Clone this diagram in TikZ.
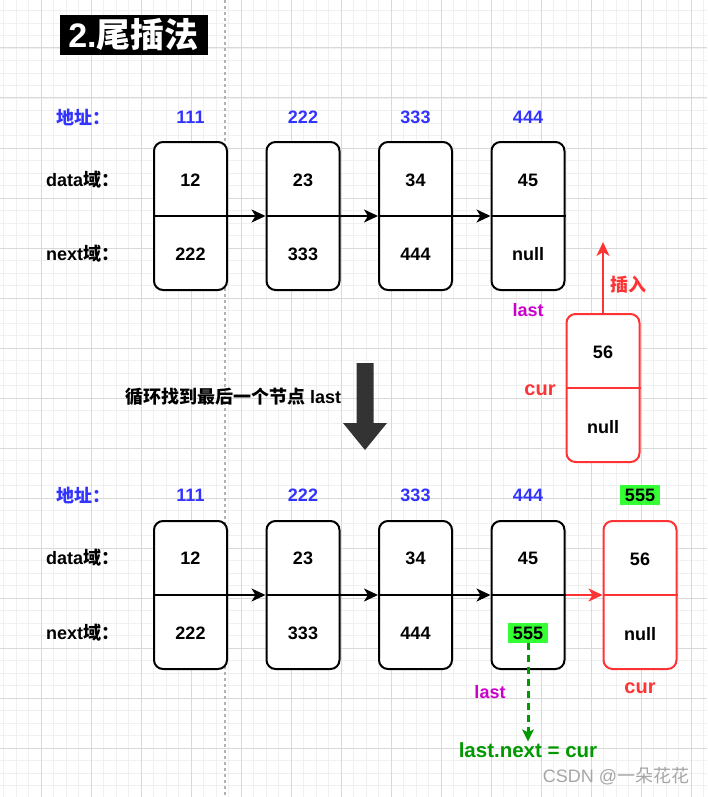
\documentclass[tikz,border=0pt]{standalone}
\usepackage{fontspec}
\setmainfont{Liberation Sans}
\newfontfamily\cjk{Noto Sans CJK SC}
\usetikzlibrary{positioning, arrows.meta}

\definecolor{addrblue}{HTML}{3333FF}
\definecolor{lastpink}{HTML}{CC00CC}
\definecolor{curred}{HTML}{FF3333}
\definecolor{hilite}{HTML}{33FF33}
\definecolor{okgreen}{HTML}{009900}
\definecolor{bigarrow}{HTML}{333333}

\begin{document}
\begin{tikzpicture}[x=1pt, y=-1pt,
    every node/.style={font=\bfseries\fontsize{18}{20}\selectfont, inner sep=1pt},
    cell/.style={draw, fill=white, rounded corners=9pt, line width=2pt, minimum width=73pt, minimum height=148pt},
    redcell/.style={cell, draw=curred},
    addr/.style={text=addrblue},
    field/.style={anchor=west},
    tag/.style={fill=hilite, inner xsep=5pt, inner ysep=4pt},
    link/.style={line width=2pt, -{Stealth[length=14pt, width=13pt, inset=4pt]}},
    redlink/.style={link, draw=curred, -{Stealth[length=14pt, width=13pt, inset=4pt, fill=curred]}},
    minorgrid/.style={draw=black!6, line width=0.8pt},
    majorgrid/.style={draw=black!15, line width=1pt}]

        \useasboundingbox (0,0) rectangle (707,797);
        \fill[white] (0,0) rectangle (707,797);

        % Grid
        \foreach \gx in {3.5,16,...,707} \draw[minorgrid] (\gx,0) -- (\gx,797);
        \foreach \gy in {10.5,23,...,797} \draw[minorgrid] (0,\gy) -- (707,\gy);
        \foreach \gx in {41,91,...,707} \draw[majorgrid] (\gx,0) -- (\gx,797);
        \foreach \gy in {48,98,...,797} \draw[majorgrid] (0,\gy) -- (707,\gy);
        \draw[black!30, line width=1.5pt, dash pattern=on 3pt off 3pt] (225,0) -- (225,797);

        % Title
        \node[fill=black, text=white, minimum width=148pt, minimum height=40pt, inner sep=0pt,
              font=\bfseries\fontsize{34}{36}\selectfont] (title) at (133.5,35) {2.{\cjk 尾插法}};

        % Before
        \node[field, addr] (addrA) at (55,117) {{\cjk 地址：}};
        \node[field] (dataA) at (45,180) {data{\cjk 域：}};
        \node[field] (nextA) at (45,254) {next{\cjk 域：}};

        \node[addr] (aA1) at (190.5,117) {111};
        \node[addr] (aA2) at (303,117) {222};
        \node[addr] (aA3) at (415.5,117) {333};
        \node[addr] (aA4) at (528,117) {444};

        \node[cell] (nA1) at (190.5,216) {};
        \node[cell] (nA2) at (303,216) {};
        \node[cell] (nA3) at (415.5,216) {};
        \node[cell] (nA4) at (528,216) {};

        \node (dA1) at (190.5,180) {12};
        \node (dA2) at (303,180) {23};
        \node (dA3) at (415.5,180) {34};
        \node (dA4) at (528,180) {45};
        \node (pA1) at (190.5,254) {222};
        \node (pA2) at (303,254) {333};
        \node (pA3) at (415.5,254) {444};
        \node (pA4) at (528,254) {null};

        \draw[line width=2pt] (nA1.west) -- (nA1.east);
        \draw[line width=2pt] (nA2.west) -- (nA2.east);
        \draw[line width=2pt] (nA3.west) -- (nA3.east);
        \draw[line width=2pt] (nA4.west) -- (nA4.east);
        \draw[link] (nA1.east) -- (nA2.west);
        \draw[link] (nA2.east) -- (nA3.west);
        \draw[link] (nA3.east) -- (nA4.west);

        \node[text=lastpink] (lastA) at (528,310) {last};

        % New node
        \node[redcell] (curA) at (603,388) {};
        \draw[line width=2pt, curred] (curA.west) -- (curA.east);
        \node (dC) at (603,352) {56};
        \node (pC) at (603,427) {null};
        \node[text=curred, font=\bfseries\fontsize{20}{22}\selectfont] (curlblA) at (540,390) {cur};
        \coordinate (ins) at (603,242);
        \draw[redlink] (curA.north) -- (ins);
        \node[text=curred, font=\bfseries\fontsize{18}{20}\cjk] (inslbl) at (628,285) {插入};

        % Step
        \node[anchor=west, font=\bfseries\fontsize{18}{20}\selectfont] (step1) at (124,397) {{\cjk 循环找到最后一个节点} last};
        \fill[bigarrow] (356.5,363) -- (373.5,363) -- (373.5,423) -- (387,423) -- (365,450)
              -- (343,423) -- (356.5,423) -- cycle;

        % After
        \node[field, addr] (addrB) at (55,495) {{\cjk 地址：}};
        \node[field] (dataB) at (45,558) {data{\cjk 域：}};
        \node[field] (nextB) at (45,633) {next{\cjk 域：}};

        \node[addr] (aB1) at (190.5,495) {111};
        \node[addr] (aB2) at (303,495) {222};
        \node[addr] (aB3) at (415.5,495) {333};
        \node[addr] (aB4) at (528,495) {444};
        \node[tag] (aB5) at (640,495) {555};

        \node[cell] (nB1) at (190.5,595) {};
        \node[cell] (nB2) at (303,595) {};
        \node[cell] (nB3) at (415.5,595) {};
        \node[cell] (nB4) at (528,595) {};
        \node[redcell] (nB5) at (640,595) {};

        \node (dB1) at (190.5,558) {12};
        \node (dB2) at (303,558) {23};
        \node (dB3) at (415.5,558) {34};
        \node (dB4) at (528,558) {45};
        \node (dB5) at (640,559) {56};
        \node (pB1) at (190.5,633) {222};
        \node (pB2) at (303,633) {333};
        \node (pB3) at (415.5,633) {444};
        \node[tag] (pB4) at (528,633) {555};
        \node (pB5) at (640,634) {null};

        \draw[line width=2pt] (nB1.west) -- (nB1.east);
        \draw[line width=2pt] (nB2.west) -- (nB2.east);
        \draw[line width=2pt] (nB3.west) -- (nB3.east);
        \draw[line width=2pt] (nB4.west) -- (nB4.east);
        \draw[line width=2pt, curred] (nB5.west) -- (nB5.east);
        \draw[link] (nB1.east) -- (nB2.west);
        \draw[link] (nB2.east) -- (nB3.west);
        \draw[link] (nB3.east) -- (nB4.west);
        \draw[redlink] (nB4.east) -- (nB5.west);

        \node[text=lastpink] (lastB) at (490,692) {last};
        \node[text=curred, font=\bfseries\fontsize{20}{22}\selectfont] (curlblB) at (640,688) {cur};

        \node[text=okgreen, font=\bfseries\fontsize{20.5}{22}\selectfont] (setnext) at (528,750) {last.next = cur};
        \draw[okgreen, line width=3pt, dash pattern=on 7pt off 5pt,
              -{Stealth[length=12pt, width=12pt, inset=3pt, fill=okgreen, line width=0pt]}]
              (pB4.south) -- (setnext.north);

        % Watermark
        \node[text=black!35, font=\fontsize{18}{20}\selectfont] (mark) at (616,776) {CSDN @{\cjk 一朵花花}};
\end{tikzpicture}
\end{document}
